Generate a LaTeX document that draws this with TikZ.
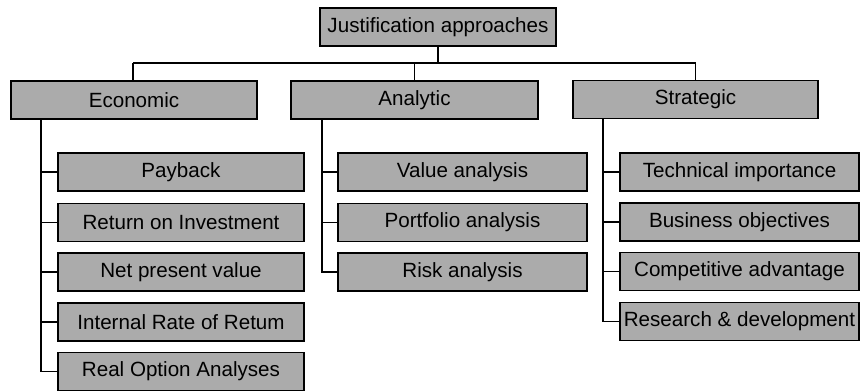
\documentclass[tikz,border=0pt]{standalone}
\usepackage{fontspec}
\setmainfont{Liberation Sans}
\begin{document}
\begin{tikzpicture}[x=1pt,y=-1pt,
  box/.style={draw=black, line width=1.4pt, fill=gray!66, rectangle,
    minimum height=38pt, inner sep=0pt, font=\fontsize{20.6}{24}\selectfont},
  link/.style={draw=black, line width=1.2pt}]
\useasboundingbox (0,0) rectangle (860,391);

% root and the three groups
\node[box, minimum width=236pt] (root) at (438,27) {Justification approaches};
\node[box, minimum width=246pt] (eco) at (134,100) {Economic};
\node[box, minimum width=247pt] (ana) at (414.5,100) {Analytic};
\node[box, minimum width=245pt] (str) at (695.5,99.5) {Strategic};

% economic methods
\node[box, minimum width=246pt] (e1) at (181,172) {Payback};
\node[box, minimum width=246pt] (e2) at (181,222.5) {Return on Investment};
\node[box, minimum width=246pt] (e3) at (181,272) {Net present value};
\node[box, minimum width=246pt] (e4) at (181,322) {Internal Rate of Retum};
\node[box, minimum width=246pt] (e5) at (181,371.5) {Real Option Analyses};

% analytic methods
\node[box, minimum width=249pt] (a1) at (462.5,172) {Value analysis};
\node[box, minimum width=249pt] (a2) at (462.5,222.5) {Portfolio analysis};
\node[box, minimum width=249pt] (a3) at (462.5,272) {Risk analysis};

% strategic methods
\node[box, minimum width=239pt] (s1) at (739.5,172) {Technical importance};
\node[box, minimum width=239pt] (s2) at (739.5,222) {Business objectives};
\node[box, minimum width=239pt] (s3) at (739.5,271.5) {Competitive advantage};
\node[box, minimum width=239pt] (s4) at (739.5,321.5) {Research \& development};

% tree from the root to the groups
\coordinate (bus) at (438,63);
\draw[link] (root.south) -- (bus);
\draw[link] (133,63) -- (696,63);
\draw[link] (eco.north -| 133,0) -- (133,63);
\draw[link] (ana.north) -- (ana.north |- bus);
\draw[link] (str.north) -- (str.north |- bus);

% spines under each group
\coordinate (es) at (41,119);
\coordinate (as) at (322,119);
\coordinate (ss) at (603,118.5);
\draw[link] (es) |- (e5.west);
\foreach \n in {e1,e2,e3,e4} \draw[link] (es |- \n.west) -- (\n.west);
\draw[link] (as) |- (a3.west);
\foreach \n in {a1,a2} \draw[link] (as |- \n.west) -- (\n.west);
\draw[link] (ss) |- (s4.west);
\foreach \n in {s1,s2,s3} \draw[link] (ss |- \n.west) -- (\n.west);
\end{tikzpicture}
\end{document}
